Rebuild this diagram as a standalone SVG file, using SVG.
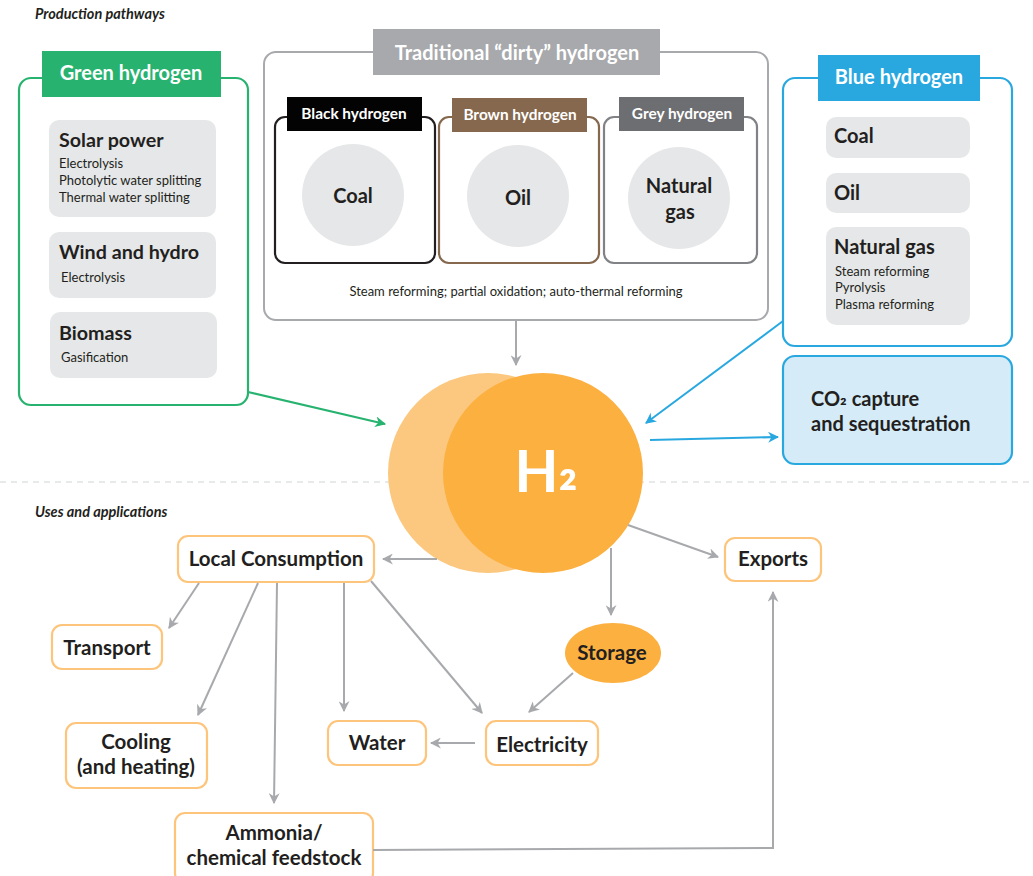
<svg xmlns="http://www.w3.org/2000/svg" width="1033" height="876" viewBox="0 0 1033 876">
<style>
text{font-family:Lato,"Open Sans","Liberation Sans",sans-serif;}
.sec{font-size:14.5px;font-style:italic;font-weight:700;fill:#231f20}
.lbl{font-size:20px;font-weight:700;fill:#fff}
.sub{font-size:15.4px;font-weight:700;fill:#fff}
.gbox{fill:#e6e7e8}
.h{font-size:19.7px;font-weight:700;fill:#231f20}
.h2{font-size:20px;font-weight:700;fill:#231f20}
.s{font-size:13px;fill:#231f20}
.big{font-size:20px;font-weight:700;fill:#231f20;text-anchor:middle}
.use{fill:#fff;stroke:#fdc57c;stroke-width:2.2}
.ut{font-size:20.5px;font-weight:700;fill:#231f20;text-anchor:middle}
.g{stroke:#a7a9ac;stroke-width:2;fill:none}
</style>
<defs>
<marker id="ag" viewBox="0 0 10 10" refX="9" refY="5" markerWidth="11" markerHeight="11" markerUnits="userSpaceOnUse" orient="auto"><path d="M0,0 L10,5 L0,10 L3,5 z" fill="#a7a9ac"/></marker>
<marker id="agr" viewBox="0 0 10 10" refX="9" refY="5" markerWidth="11" markerHeight="11" markerUnits="userSpaceOnUse" orient="auto"><path d="M0,0 L10,5 L0,10 L3,5 z" fill="#27b36f"/></marker>
<marker id="ab" viewBox="0 0 10 10" refX="9" refY="5" markerWidth="11" markerHeight="11" markerUnits="userSpaceOnUse" orient="auto"><path d="M0,0 L10,5 L0,10 L3,5 z" fill="#29a8e0"/></marker>
</defs>
<rect width="1033" height="876" fill="#fff"/>
<text class="sec" x="35" y="19">Production pathways</text>
<text class="sec" x="35" y="517">Uses and applications</text>
<line x1="0" y1="482" x2="1033" y2="482" stroke="#d1d3d4" stroke-width="1.2" stroke-dasharray="6,5"/>

<g id="green">
<rect x="19" y="78" width="229" height="327" rx="12" fill="#fff" stroke="#27b36f" stroke-width="2.2"/>
<rect x="42" y="51" width="179" height="46" fill="#27b36f"/>
<text class="lbl" x="131" y="80" text-anchor="middle">Green hydrogen</text>
<rect class="gbox" x="49" y="120" width="167" height="97" rx="10"/>
<text class="h" x="59" y="147">Solar power</text>
<text class="s" x="59" y="168">Electrolysis</text>
<text class="s" x="59" y="185">Photolytic water splitting</text>
<text class="s" x="59" y="202">Thermal water splitting</text>
<rect class="gbox" x="49" y="232" width="167" height="66" rx="10"/>
<text class="h" x="59" y="259">Wind and hydro</text>
<text class="s" x="61" y="282">Electrolysis</text>
<rect class="gbox" x="50" y="312" width="167" height="66" rx="10"/>
<text class="h" x="59" y="340">Biomass</text>
<text class="s" x="61" y="362">Gasification</text>
</g>

<g id="traditional">
<rect x="264" y="52" width="504" height="268" rx="12" fill="#fff" stroke="#a7a9ac" stroke-width="2"/>
<rect x="373" y="29" width="287" height="46" fill="#a7a9ac"/>
<text class="lbl" x="517" y="60" text-anchor="middle" font-size="22.3">Traditional “dirty” hydrogen</text>
<text class="s" x="516" y="296" text-anchor="middle" font-size="13.2">Steam reforming; partial oxidation; auto-thermal reforming</text>
</g>
<g id="black">
<rect x="275" y="117" width="160" height="146" rx="10" fill="#fff" stroke="#231f20" stroke-width="2.2"/>
<rect x="287" y="97" width="135" height="34" fill="#030303"/>
<text class="sub" x="354" y="119" text-anchor="middle">Black hydrogen</text>
<circle cx="353" cy="195" r="51" fill="#e6e7e8"/>
<text class="big" x="353" y="203">Coal</text>
</g>
<g id="brown">
<rect x="439" y="117" width="160" height="146" rx="10" fill="#fff" stroke="#86684e" stroke-width="2.2"/>
<rect x="452" y="98" width="135" height="34" fill="#86684e"/>
<text class="sub" x="520" y="120" text-anchor="middle">Brown hydrogen</text>
<circle cx="518" cy="196" r="51" fill="#e6e7e8"/>
<text class="big" x="518" y="205">Oil</text>
</g>
<g id="grey">
<rect x="604" y="117" width="153" height="146" rx="10" fill="#fff" stroke="#808285" stroke-width="2.2"/>
<rect x="619" y="97" width="125" height="34" fill="#6d6e71"/>
<text class="sub" x="682" y="119" text-anchor="middle">Grey hydrogen</text>
<circle cx="679" cy="198" r="51" fill="#e6e7e8"/>
<text class="big" x="679" y="193">Natural</text>
<text class="big" x="680" y="219">gas</text>
</g>

<g id="blue">
<rect x="783" y="78" width="229" height="268" rx="12" fill="#fff" stroke="#29a8e0" stroke-width="2.2"/>
<rect x="818" y="55" width="162" height="46" fill="#29a8e0"/>
<text class="lbl" x="899" y="84" text-anchor="middle">Blue hydrogen</text>
<rect class="gbox" x="826" y="117" width="144" height="41" rx="10"/>
<text class="h2" x="834" y="143">Coal</text>
<rect class="gbox" x="826" y="173" width="144" height="40" rx="10"/>
<text class="h2" x="834" y="200">Oil</text>
<rect class="gbox" x="826" y="227" width="144" height="98" rx="10"/>
<text class="h2" x="834" y="254" font-size="20.8">Natural gas</text>
<text class="s" x="835" y="276">Steam reforming</text>
<text class="s" x="835" y="292">Pyrolysis</text>
<text class="s" x="835" y="309">Plasma reforming</text>
</g>
<g id="ccs">
<rect x="783" y="356" width="229" height="108" rx="12" fill="#d5ecf8" stroke="#29a8e0" stroke-width="2.2"/>
<text class="h2" x="811" y="406" font-size="20.8">CO<tspan dy="-3">₂</tspan><tspan dy="3"> capture</tspan></text>
<text class="h2" x="811" y="431" font-size="20.8">and sequestration</text>
</g>

<g id="h2">
<circle cx="488" cy="473" r="100" fill="#fcc77e"/>
<circle cx="543" cy="473" r="100" fill="#fbb040"/>
<text x="546" y="492" text-anchor="middle" font-size="57" font-weight="700" fill="#fff">H<tspan dy="-8">₂</tspan></text>
</g>

<g id="local"><rect class="use" x="178" y="536" width="196" height="46" rx="10"/><text class="ut" x="276" y="566">Local Consumption</text></g>
<g id="transport"><rect class="use" x="52" y="625" width="110" height="44" rx="10"/><text class="ut" x="107" y="655">Transport</text></g>
<g id="cooling"><rect class="use" x="66" y="723" width="141" height="65" rx="10"/><text class="ut" x="136" y="749">Cooling</text><text class="ut" x="136" y="774">(and heating)</text></g>
<g id="water"><rect class="use" x="328" y="721" width="98" height="44" rx="10"/><text class="ut" x="377" y="750">Water</text></g>
<g id="ammonia"><rect class="use" x="175" y="813" width="198" height="70" rx="10"/><text class="ut" x="274" y="840">Ammonia/</text><text class="ut" x="274" y="865">chemical feedstock</text></g>
<g id="electricity"><rect class="use" x="486" y="721" width="112" height="44" rx="10"/><text class="ut" x="542" y="752">Electricity</text></g>
<g id="exports"><rect class="use" x="725" y="538" width="96" height="43" rx="10"/><text class="ut" x="773" y="566">Exports</text></g>
<g id="storage"><ellipse cx="613" cy="653" rx="48" ry="30" fill="#fbb040"/><text class="ut" x="612" y="660">Storage</text></g>

<g id="connectors">
<line class="g" x1="516" y1="321" x2="516" y2="365" marker-end="url(#ag)"/>
<line x1="248" y1="392" x2="385" y2="424" stroke="#27b36f" stroke-width="2" marker-end="url(#agr)"/>
<line x1="783" y1="321" x2="646" y2="423" stroke="#29a8e0" stroke-width="2" marker-end="url(#ab)"/>
<line x1="650" y1="440" x2="778" y2="437" stroke="#29a8e0" stroke-width="2" marker-end="url(#ab)"/>
<line class="g" x1="437" y1="559" x2="383" y2="559" marker-end="url(#ag)"/>
<line class="g" x1="628" y1="525" x2="718" y2="557" marker-end="url(#ag)"/>
<line class="g" x1="611" y1="548" x2="611" y2="615" marker-end="url(#ag)"/>
<line class="g" x1="573" y1="673" x2="529" y2="712" marker-end="url(#ag)"/>
<line class="g" x1="475" y1="743" x2="431" y2="743" marker-end="url(#ag)"/>
<polyline class="g" points="373,850 773,848 773,592" marker-end="url(#ag)"/>
<line class="g" x1="199" y1="583" x2="169" y2="628" marker-end="url(#ag)"/>
<line class="g" x1="258" y1="583" x2="198" y2="715" marker-end="url(#ag)"/>
<line class="g" x1="277" y1="583" x2="274" y2="803" marker-end="url(#ag)"/>
<line class="g" x1="344" y1="583" x2="344" y2="711" marker-end="url(#ag)"/>
<line class="g" x1="371" y1="581" x2="482" y2="713" marker-end="url(#ag)"/>
</g>
</svg>
